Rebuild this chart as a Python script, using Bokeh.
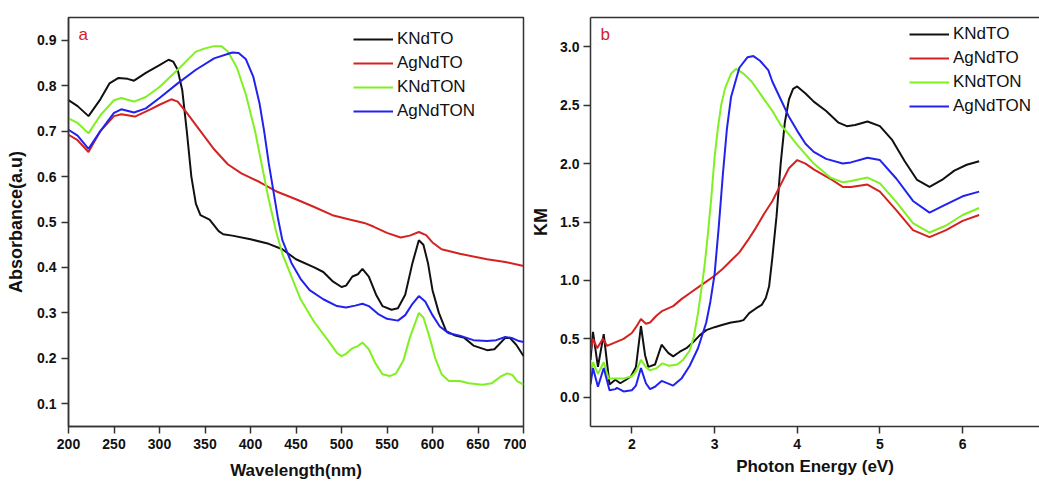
from bokeh.plotting import figure
from bokeh.layouts import row
from bokeh.models import Range1d, FixedTicker, NumeralTickFormatter, Legend, LegendItem, Label, LinearAxis
from bokeh.embed import file_html
from bokeh.resources import INLINE

# ---------------- Panel a: absorbance vs wavelength ----------------
wl_kndto = [200, 210, 222, 235, 245, 255, 265, 272, 285, 300, 310, 315, 320, 325, 330, 335, 340, 345, 355, 365, 370, 380, 400, 420, 435, 450, 470, 480, 490, 500, 505, 512, 518, 523, 530, 538, 545, 555, 562, 570, 578, 585, 590, 595, 600, 607, 615, 625, 635, 645, 660, 668, 680, 685, 692, 700]
ab_kndto = [0.768, 0.755, 0.733, 0.770, 0.805, 0.817, 0.815, 0.811, 0.828, 0.845, 0.857, 0.853, 0.835, 0.790, 0.700, 0.600, 0.540, 0.515, 0.505, 0.480, 0.473, 0.470, 0.462, 0.452, 0.440, 0.418, 0.400, 0.390, 0.370, 0.357, 0.360, 0.380, 0.385, 0.397, 0.380, 0.340, 0.315, 0.307, 0.310, 0.340, 0.410, 0.460, 0.450, 0.410, 0.350, 0.300, 0.260, 0.250, 0.245, 0.228, 0.218, 0.220, 0.245, 0.245, 0.230, 0.205]

wl_agndto = [200, 210, 222, 235, 250, 258, 273, 290, 300, 313, 320, 330, 345, 360, 375, 390, 410, 430, 450, 470, 490, 510, 525, 535, 550, 565, 575, 585, 593, 600, 610, 630, 660, 680, 700]
ab_agndto = [0.692, 0.680, 0.654, 0.700, 0.733, 0.737, 0.732, 0.748, 0.758, 0.770, 0.765, 0.740, 0.700, 0.660, 0.627, 0.607, 0.588, 0.566, 0.550, 0.533, 0.515, 0.505, 0.498, 0.490, 0.476, 0.466, 0.470, 0.478, 0.471, 0.455, 0.440, 0.430, 0.418, 0.412, 0.403]

wl_kndton = [200, 210, 222, 235, 250, 258, 272, 285, 300, 320, 340, 350, 360, 368, 375, 385, 395, 405, 413, 420, 428, 435, 445, 455, 470, 485, 495, 500, 505, 512, 518, 523, 530, 537, 545, 553, 560, 568, 575, 585, 590, 597, 603, 610, 618, 630, 640, 655, 665, 675, 682, 688, 693, 700]
ab_kndton = [0.728, 0.718, 0.695, 0.735, 0.768, 0.773, 0.765, 0.775, 0.797, 0.835, 0.875, 0.882, 0.887, 0.887, 0.875, 0.840, 0.780, 0.700, 0.620, 0.550, 0.480, 0.430, 0.380, 0.330, 0.280, 0.240, 0.212, 0.205, 0.210, 0.222, 0.227, 0.235, 0.220, 0.190, 0.165, 0.161, 0.167, 0.195, 0.245, 0.300, 0.290, 0.245, 0.200, 0.165, 0.150, 0.150, 0.145, 0.142, 0.145, 0.160, 0.167, 0.163, 0.150, 0.142]

wl_agndton = [200, 210, 222, 235, 250, 258, 272, 285, 300, 320, 340, 360, 380, 387, 395, 403, 410, 415, 420, 425, 430, 435, 445, 455, 465, 480, 495, 505, 515, 523, 530, 540, 550, 562, 570, 578, 585, 592, 600, 608, 618, 630, 645, 660, 670, 680, 687, 695, 700]
ab_agndton = [0.703, 0.690, 0.661, 0.700, 0.740, 0.748, 0.741, 0.750, 0.773, 0.805, 0.835, 0.860, 0.873, 0.872, 0.858, 0.820, 0.760, 0.700, 0.630, 0.570, 0.510, 0.460, 0.410, 0.375, 0.350, 0.330, 0.315, 0.312, 0.316, 0.320, 0.315, 0.298, 0.287, 0.283, 0.295, 0.320, 0.337, 0.325, 0.295, 0.270, 0.255, 0.250, 0.240, 0.238, 0.240, 0.247, 0.245, 0.238, 0.236]

# ---------------- Panel b: KM vs photon energy ----------------
ev_kndto = [1.50, 1.53, 1.59, 1.66, 1.73, 1.80, 1.86, 1.93, 1.99, 2.05, 2.11, 2.16, 2.20, 2.28, 2.36, 2.44, 2.50, 2.58, 2.66, 2.74, 2.82, 2.90, 3.00, 3.10, 3.20, 3.30, 3.35, 3.42, 3.50, 3.57, 3.62, 3.66, 3.70, 3.75, 3.80, 3.85, 3.90, 3.95, 4.00, 4.10, 4.20, 4.35, 4.50, 4.60, 4.70, 4.85, 5.00, 5.15, 5.30, 5.45, 5.60, 5.75, 5.90, 6.05, 6.20]
km_kndto = [0.32, 0.56, 0.26, 0.54, 0.11, 0.15, 0.12, 0.15, 0.18, 0.26, 0.61, 0.36, 0.26, 0.28, 0.45, 0.38, 0.35, 0.39, 0.42, 0.47, 0.53, 0.575, 0.60, 0.62, 0.64, 0.65, 0.66, 0.72, 0.76, 0.79, 0.85, 0.95, 1.20, 1.55, 2.00, 2.35, 2.55, 2.64, 2.66, 2.60, 2.53, 2.45, 2.35, 2.32, 2.33, 2.36, 2.32, 2.20, 2.02, 1.86, 1.80, 1.86, 1.94, 1.99, 2.02]

ev_agndto = [1.50, 1.53, 1.58, 1.65, 1.70, 1.80, 1.90, 2.00, 2.05, 2.11, 2.17, 2.22, 2.30, 2.37, 2.50, 2.60, 2.70, 2.80, 2.90, 3.00, 3.10, 3.20, 3.30, 3.40, 3.50, 3.60, 3.70, 3.80, 3.90, 4.00, 4.10, 4.20, 4.40, 4.55, 4.65, 4.85, 5.00, 5.20, 5.40, 5.60, 5.80, 6.00, 6.20]
km_agndto = [0.40, 0.50, 0.42, 0.50, 0.44, 0.47, 0.50, 0.55, 0.60, 0.67, 0.63, 0.64, 0.70, 0.74, 0.78, 0.84, 0.89, 0.94, 0.99, 1.04, 1.10, 1.17, 1.24, 1.34, 1.45, 1.57, 1.68, 1.82, 1.96, 2.03, 2.00, 1.95, 1.87, 1.80, 1.80, 1.82, 1.76, 1.60, 1.43, 1.37, 1.43, 1.51, 1.56]

ev_kndton = [1.50, 1.53, 1.59, 1.66, 1.72, 1.80, 1.90, 2.00, 2.05, 2.11, 2.17, 2.22, 2.30, 2.37, 2.45, 2.55, 2.62, 2.70, 2.75, 2.80, 2.85, 2.88, 2.92, 2.96, 3.00, 3.04, 3.08, 3.13, 3.20, 3.26, 3.35, 3.45, 3.60, 3.70, 3.80, 3.90, 4.00, 4.20, 4.40, 4.55, 4.65, 4.85, 5.00, 5.20, 5.40, 5.60, 5.80, 6.00, 6.20]
km_kndton = [0.17, 0.30, 0.20, 0.30, 0.16, 0.16, 0.16, 0.18, 0.22, 0.32, 0.26, 0.23, 0.25, 0.29, 0.27, 0.28, 0.32, 0.40, 0.52, 0.72, 0.97, 1.13, 1.40, 1.70, 2.05, 2.30, 2.50, 2.65, 2.77, 2.81, 2.77, 2.70, 2.55, 2.45, 2.33, 2.25, 2.16, 2.00, 1.88, 1.84, 1.85, 1.88, 1.83, 1.67, 1.49, 1.41, 1.47, 1.56, 1.62]

ev_agndton = [1.50, 1.53, 1.59, 1.66, 1.73, 1.80, 1.82, 1.90, 2.00, 2.05, 2.11, 2.17, 2.22, 2.28, 2.36, 2.50, 2.60, 2.70, 2.80, 2.90, 2.95, 3.00, 3.05, 3.10, 3.15, 3.20, 3.30, 3.40, 3.47, 3.55, 3.65, 3.70, 3.80, 3.90, 4.00, 4.10, 4.20, 4.35, 4.55, 4.65, 4.85, 5.00, 5.20, 5.40, 5.60, 5.80, 6.00, 6.20]
km_agndton = [0.11, 0.25, 0.09, 0.25, 0.06, 0.07, 0.08, 0.05, 0.06, 0.10, 0.25, 0.12, 0.07, 0.09, 0.14, 0.10, 0.16, 0.27, 0.42, 0.64, 0.82, 1.05, 1.45, 1.90, 2.30, 2.57, 2.82, 2.91, 2.92, 2.88, 2.80, 2.70, 2.55, 2.40, 2.28, 2.17, 2.10, 2.04, 2.00, 2.01, 2.05, 2.03, 1.87, 1.68, 1.58, 1.65, 1.72, 1.76]

series_names = ["KNdTO", "AgNdTO", "KNdTON", "AgNdTON"]
colors = ["#111111", "#d42222", "#80f020", "#2222ee"]

a_ticks = [200, 250, 300, 350, 400, 450, 500, 550, 600, 650, 700]
a_yticks = [0.1, 0.2, 0.3, 0.4, 0.5, 0.6, 0.7, 0.8, 0.9]
b_ticks = [2, 3, 4, 5, 6]
b_yticks = [0.0, 0.5, 1.0, 1.5, 2.0, 2.5, 3.0]

FONT = "Liberation Sans"
EDGE = "#333333"


def style(p, xticks, yticks, xlabel, ylabel, ylab_size):
    p.outline_line_color = EDGE
    p.outline_line_width = 1.5
    p.xgrid.visible = False
    p.ygrid.visible = False
    p.background_fill_color = "white"
    p.border_fill_color = "white"
    for ax in (p.xaxis[0], p.yaxis[0]):
        ax.axis_line_color = EDGE
        ax.axis_line_width = 1.5
        ax.major_tick_line_color = EDGE
        ax.major_tick_line_width = 1.5
        ax.major_tick_out = 7
        ax.major_tick_in = 0
        ax.minor_tick_line_color = None
        ax.major_label_text_font = FONT
        ax.major_label_text_font_style = "bold"
        ax.major_label_text_font_size = "14px"
        ax.major_label_text_color = "#111111"
        ax.axis_label_text_font = FONT
        ax.axis_label_text_font_style = "bold"
        ax.axis_label_text_color = "#111111"
    p.xaxis[0].ticker = FixedTicker(ticks=xticks)
    p.yaxis[0].ticker = FixedTicker(ticks=yticks)
    p.yaxis[0].formatter = NumeralTickFormatter(format="0.0")
    p.xaxis[0].axis_label = xlabel
    p.yaxis[0].axis_label = ylabel
    p.xaxis[0].axis_label_text_font_size = "17px"
    p.yaxis[0].axis_label_text_font_size = ylab_size
    p.xaxis[0].major_label_standoff = 5
    p.yaxis[0].major_label_standoff = 5


# ---- figure a ----
pa = figure(width=526, height=484, output_backend="svg", toolbar_location=None,
            x_range=Range1d(200, 700), y_range=Range1d(0.05, 0.95),
            min_border_left=68, min_border_right=3, min_border_top=13, min_border_bottom=58)
style(pa, a_ticks, a_yticks, "Wavelength(nm)", "Absorbance(a.u)", "18px")
pa.xaxis[0].axis_label_standoff = 9
pa.yaxis[0].axis_label_standoff = 8

items_a = []
for (xs, ys), name, c in zip([(wl_kndto, ab_kndto), (wl_agndto, ab_agndto),
                              (wl_kndton, ab_kndton), (wl_agndton, ab_agndton)],
                             series_names, colors):
    r = pa.line(xs, ys, line_color=c, line_width=2)
    items_a.append(LegendItem(label=name, renderers=[r]))

leg_a = Legend(items=items_a, location=(285, 305), orientation="vertical",
               background_fill_alpha=0, border_line_color=None,
               label_text_font=FONT, label_text_font_size="17px", label_text_color="#111111",
               glyph_width=40, glyph_height=20, label_height=20, label_standoff=4,
               spacing=4, padding=0, margin=0)
pa.add_layout(leg_a, "center")
pa.add_layout(Label(x=211, y=0.892, text="a", text_color="#d42222",
                    text_font=FONT, text_font_size="17px"))

# ---- figure b ----
pb = figure(width=513, height=484, output_backend="svg", toolbar_location=None,
            x_range=Range1d(1.5, 6.93), y_range=Range1d(-0.25, 3.25),
            min_border_left=64, min_border_right=0, min_border_top=17, min_border_bottom=54)
style(pb, b_ticks, b_yticks, "Photon Energy (eV)", "KM", "18px")
pb.outline_line_color = None  # right edge of this frame lies beyond the picture
top_b = LinearAxis(ticker=FixedTicker(ticks=[]), axis_line_color=EDGE, axis_line_width=1.5,
                   major_tick_line_color=None, minor_tick_line_color=None,
                   major_label_text_font_size="0px")
pb.add_layout(top_b, "above")
pb.xaxis[0].major_label_standoff = 6
pb.xaxis[0].axis_label_standoff = 5
pb.yaxis[0].axis_label_standoff = 6
pb.yaxis[0].major_label_standoff = 4

items_b = []
for (xs, ys), name, c in zip([(ev_kndto, km_kndto), (ev_agndto, km_agndto),
                              (ev_kndton, km_kndton), (ev_agndton, km_agndton)],
                             series_names, colors):
    r = pb.line(xs, ys, line_color=c, line_width=2)
    items_b.append(LegendItem(label=name, renderers=[r]))

leg_b = Legend(items=items_b, location=(319, 310), orientation="vertical",
               background_fill_alpha=0, border_line_color=None,
               label_text_font=FONT, label_text_font_size="17px", label_text_color="#111111",
               glyph_width=40, glyph_height=20, label_height=20, label_standoff=4,
               spacing=4, padding=0, margin=0)
pb.add_layout(leg_b, "center")
pb.add_layout(Label(x=1.62, y=3.025, text="b", text_color="#d42222",
                    text_font=FONT, text_font_size="17px"))

layout = row(pa, pb)
open("out.html", "w").write(file_html(layout, INLINE))
